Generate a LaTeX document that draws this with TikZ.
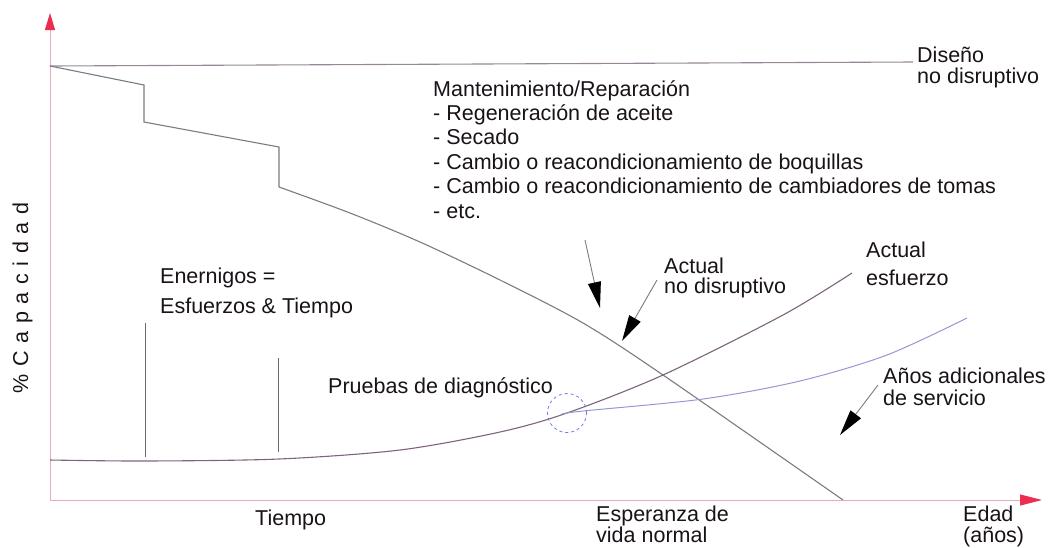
\documentclass[tikz,border=0pt]{standalone}
\usepackage{fontspec}
\setmainfont{Liberation Sans}
\usetikzlibrary{arrows.meta}
\definecolor{axisc}{RGB}{236,170,185}
\definecolor{axhead}{RGB}{236,45,80}
\definecolor{designc}{RGB}{150,135,150}
\definecolor{curvc}{RGB}{125,122,130}
\definecolor{strc}{RGB}{125,100,125}
\definecolor{bluec}{RGB}{150,150,215}
\definecolor{circc}{RGB}{120,120,230}
\definecolor{vlinec}{RGB}{105,105,110}
\definecolor{txt}{RGB}{25,18,24}
\newcommand\ygap{\hspace{7.6pt}}
\begin{document}
\begin{tikzpicture}[x=1pt,y=-1pt,
  lbl/.style={inner sep=0pt, anchor=base west, align=left, text=txt},
  axisline/.style={draw=axisc, line width=1pt},
  curve/.style={draw=curvc, line width=1.1pt},
  design/.style={draw=designc, line width=1.1pt},
  stress/.style={draw=strc, line width=1.1pt},
  extra/.style={draw=bluec, line width=1pt},
  marker/.style={draw=vlinec, line width=0.9pt},
  pointer/.style={draw=curvc, line width=0.9pt, -{Triangle[length=26pt,width=13pt,color=black]}},
]
\useasboundingbox (0,0) rectangle (1051,547);

% coordinates
\coordinate (orig) at (50,500);
\coordinate (ytip) at (50,13);
\coordinate (xtip) at (1042,500);
\coordinate (d0) at (50,66);
\coordinate (dend) at (913,62);

% axes
\draw[axisline, -{Triangle[length=17pt,width=10pt,color=axhead]}] (orig) -- (ytip);
\draw[axisline, -{Triangle[length=22pt,width=11pt,color=axhead]}] (orig) -- (xtip);

% design line
\draw[design] (d0) -- (dend);

% actual non-disruptive curve
\draw[curve] (d0) -- (144,85) -- (144,122) -- (279,147) -- (279,187)
  plot[smooth, tension=0.5] coordinates {(279,187) (350,213) (420,242) (500,280) (583,323) (663,375) (843,500)};

% stress curve
\draw[stress] plot[smooth, tension=0.5] coordinates {(50,460) (145,461) (279,459) (400,450) (500,432) (567,413) (663,375) (783,315) (852,273)};

% additional years curve
\draw[extra] plot[smooth, tension=0.5] coordinates {(562,414) (583,411) (703,399) (800,381) (887,355) (967,318)};

% diagnostic circle
\node[draw=circc, dashed, line width=0.8pt, circle, minimum size=39pt, inner sep=0pt] (diag) at (567,413) {};

% marker lines
\coordinate (m1a) at (145,323); \coordinate (m1b) at (145,457);
\coordinate (m2a) at (278,358); \coordinate (m2b) at (278,452);
\draw[marker] (m1a) -- (m1b);
\draw[marker] (m2a) -- (m2b);

% labels (anchor = baseline of last line)
\node[lbl, font=\fontsize{21.5}{21}\selectfont] (diseno) at (917,83) {Diseño\\no disruptivo};
\node[lbl, font=\fontsize{21.5}{24.4}\selectfont] (mant) at (433,218) {Mantenimiento/Reparación\\- Regeneración de aceite\\- Secado\\- Cambio o reacondicionamiento de boquillas\\- Cambio o reacondicionamiento de cambiadores de tomas\\- etc.};
\node[lbl, font=\fontsize{21.5}{30}\selectfont] (enem) at (160,313) {Enernigos =\\Esfuerzos \& Tiempo};
\node[lbl, font=\fontsize{21.5}{20.5}\selectfont] (actnd) at (664,293.5) {Actual\\no disruptivo};
\node[lbl, font=\fontsize{21.5}{28}\selectfont] (actes) at (866,285) {Actual\\esfuerzo};
\node[lbl, font=\fontsize{21.5}{24}\selectfont] (prueb) at (328,393) {Pruebas de diagnóstico};
\node[lbl, font=\fontsize{21.5}{22}\selectfont] (anos) at (883,405) {Años adicionales\\de servicio};
\node[lbl, font=\fontsize{21.5}{24}\selectfont] (tiempo) at (255,525) {Tiempo};
\node[lbl, font=\fontsize{21.5}{21}\selectfont] (esper) at (596,542) {Esperanza de\\vida normal};
\node[lbl, font=\fontsize{21.5}{21}\selectfont] (edad) at (963,542) {Edad\\(años)};
\node[inner sep=0pt, anchor=base, rotate=90, text=txt, font=\fontsize{21.5}{24}\selectfont] (ylab) at (28,298)
  {\%\ygap C\ygap a\ygap p\ygap a\ygap c\ygap i\ygap d\ygap a\ygap d};

% pointer arrows
\coordinate (p1s) at (585,240); \coordinate (p1e) at (600,308);
\coordinate (p2s) at (657,280); \coordinate (p2e) at (622,341);
\coordinate (p3s) at (878,385); \coordinate (p3e) at (840,435);
\draw[pointer] (p1s) -- (p1e);
\draw[pointer] (p2s) -- (p2e);
\draw[pointer] (p3s) -- (p3e);
\end{tikzpicture}
\end{document}
